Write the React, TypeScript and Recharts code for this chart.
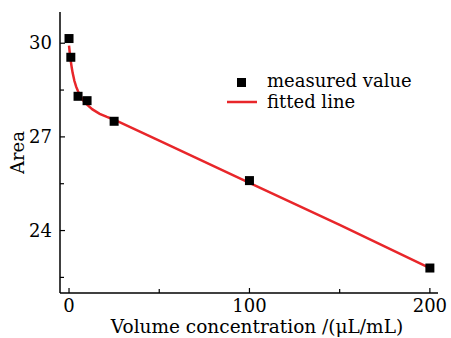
import React from "react";
import { ComposedChart, Scatter, XAxis, YAxis } from "recharts";

const measuredX = [0, 1, 5, 10, 25, 100, 200];
const measuredY = [30.15, 29.55, 28.3, 28.16, 27.5, 25.6, 22.8];

const fitX = [0, 0.5, 1, 1.5, 2, 3, 4, 5, 6, 8, 10, 13, 17, 21, 25, 50, 100, 150, 200];
const fitY = [29.92, 29.64, 29.42, 29.22, 29.05, 28.79, 28.6, 28.46, 28.34, 28.16, 28.03, 27.88, 27.74, 27.64, 27.55, 26.88, 25.53, 24.18, 22.8];

const xTicks = [0, 50, 100, 150, 200];
const xLabels = [0, 100, 200];
const yTicks = [22.5, 24, 25.5, 27, 28.5, 30];
const yLabels = [24, 27, 30];

const measured = measuredX.map((x, i) => ({ x, y: measuredY[i] }));
const fitted = fitX.map((x, i) => ({ x, y: fitY[i] }));

const FONT = "'DejaVu Serif', serif";
const RED = "#e8262a";

const Square = (props: any) => {
  const { cx, cy } = props;
  return <rect x={cx - 4.5} y={cy - 4.5} width={9} height={9} fill="#000" />;
};

const YTick = (props: any) => {
  const { x, y, payload } = props;
  const v = payload.value;
  const major = yLabels.includes(v);
  return (
    <g>
      <line x1={x + 8} x2={x + 8 + (major ? 5 : 4)} y1={y} y2={y} stroke="#000" strokeWidth={1.2} />
      {major && (
        <text x={x} y={y} dy={6} textAnchor="end" fontFamily={FONT} fontSize={18} fill="#000">
          {v}
        </text>
      )}
    </g>
  );
};

const XTick = (props: any) => {
  const { x, y, payload } = props;
  const v = payload.value;
  const major = xLabels.includes(v);
  return (
    <g>
      <line x1={x} x2={x} y1={y - 6} y2={y - 6 - (major ? 5 : 4)} stroke="#000" strokeWidth={1.2} />
      {major && (
        <text x={x} y={y} dy={13} textAnchor="middle" fontFamily={FONT} fontSize={18} fill="#000">
          {v}
        </text>
      )}
    </g>
  );
};

export default function App() {
  return (
    <div style={{ position: "absolute", left: 0, top: 0, width: 451, height: 338, background: "#fff" }}>
      <ComposedChart width={451} height={338} margin={{ top: 12, right: 13, left: 0, bottom: 0 }}>
        <XAxis
          type="number"
          dataKey="x"
          domain={[-5, 204.5]}
          ticks={xTicks}
          tick={<XTick />}
          tickLine={false}
          tickSize={0}
          tickMargin={6}
          height={45}
          axisLine={{ stroke: "#000", strokeWidth: 1.5 }}
          allowDataOverflow
          label={{ value: "Volume concentration /(\u03bcL/mL)", position: "insideBottom", offset: 5, dx: 8, style: { fontFamily: FONT, fontSize: 18.5, fill: "#000" } }}
        />
        <YAxis
          type="number"
          dataKey="y"
          domain={[22, 31]}
          ticks={yTicks}
          tick={<YTick />}
          tickLine={false}
          tickSize={0}
          tickMargin={8}
          width={60}
          axisLine={{ stroke: "#000", strokeWidth: 1.5 }}
          allowDataOverflow
          label={{ value: "Area", angle: -90, position: "insideLeft", offset: 18, style: { fontFamily: FONT, fontSize: 18, fill: "#000", textAnchor: "middle" } }}
        />
        <Scatter
          data={fitted}
          line={{ stroke: RED, strokeWidth: 2.5 }}
          lineType="joint"
          shape={() => null}
          isAnimationActive={false}
          legendType="none"
        />
        <Scatter data={measured} shape={<Square />} isAnimationActive={false} legendType="none" />
      </ComposedChart>
      <svg width={200} height={40} style={{ position: "absolute", left: 227, top: 71, overflow: "visible" }}>
        <rect x={10} y={7} width={9} height={9} fill="#000" />
        <text x={40} y={16} fontFamily={FONT} fontSize={18} fill="#000">measured value</text>
        <line x1={0} x2={30} y1={31} y2={31} stroke={RED} strokeWidth={2.5} />
        <text x={40} y={37} fontFamily={FONT} fontSize={18} fill="#000">fitted line</text>
      </svg>
    </div>
  );
}
